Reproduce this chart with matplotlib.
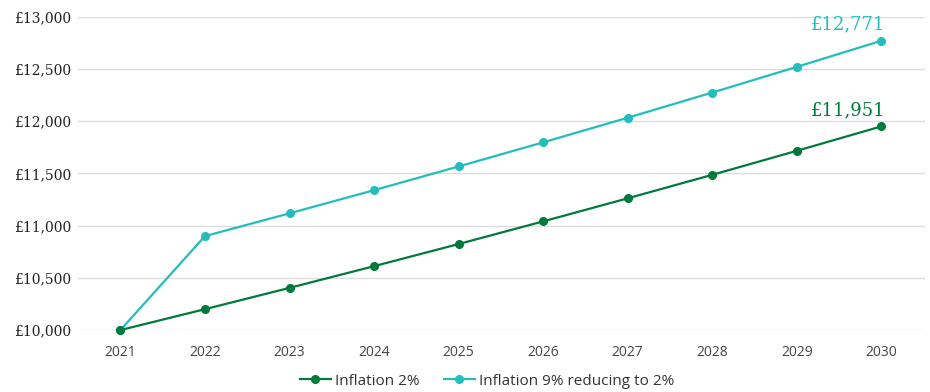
import matplotlib.pyplot as plt

years = [2021, 2022, 2023, 2024, 2025, 2026, 2027, 2028, 2029, 2030]
inflation_2 = [10000, 10200, 10404, 10612, 10824, 11041, 11262, 11487, 11717, 11951]
inflation_9_to_2 = [10000, 10900, 11118, 11340, 11567, 11798, 12034, 12275, 12521, 12771]
y_ticks = [10000, 10500, 11000, 11500, 12000, 12500, 13000]

GREEN = '#007a3a'
TEAL = '#24bdbd'
SERIF = 'DejaVu Serif'

fig = plt.figure(figsize=(9.3, 3.92), dpi=100)
ax = fig.add_axes([0.084, 0.158, 0.911, 0.799])

ax.plot(years, inflation_2, color=GREEN, lw=1.6, marker='o', ms=5.5,
        label='Inflation 2%', clip_on=False, zorder=3)
ax.plot(years, inflation_9_to_2, color=TEAL, lw=1.6, marker='o', ms=5.5,
        label='Inflation 9% reducing to 2%', clip_on=False, zorder=2)

# end-of-line value labels
ax.annotate('£{:,}'.format(inflation_9_to_2[-1]), (years[-1], inflation_9_to_2[-1]),
            xytext=(3, 5), textcoords='offset points', ha='right', va='bottom',
            color=TEAL, fontsize=13, family=SERIF)
ax.annotate('£{:,}'.format(inflation_2[-1]), (years[-1], inflation_2[-1]),
            xytext=(3, 5), textcoords='offset points', ha='right', va='bottom',
            color=GREEN, fontsize=13, family=SERIF)

ax.set_xlim(2020.5, 2030.52)
ax.set_ylim(10000, 13000)
ax.set_xticks(years, labels=[str(y) for y in years], family='Open Sans',
              fontsize=10, color='#444444')
ax.set_yticks(y_ticks, labels=['£{:,}'.format(v) for v in y_ticks],
              family=SERIF, fontsize=10, color='#222222')

ax.tick_params(axis='both', length=0)
ax.tick_params(axis='y', pad=5)
ax.tick_params(axis='x', pad=11)
ax.grid(axis='y', color='#dcdcdc', lw=1)
ax.set_axisbelow(True)
for s in ax.spines.values():
    s.set_visible(False)

leg = ax.legend(loc='upper center', bbox_to_anchor=(0.483, -0.095), ncol=2, frameon=False,
                prop={'family': 'Open Sans', 'size': 11}, handlelength=2.0,
                handletextpad=0.3, columnspacing=1.6)
for t in leg.get_texts():
    t.set_color('#333333')

fig.savefig('out.png', dpi=100, facecolor='white')
